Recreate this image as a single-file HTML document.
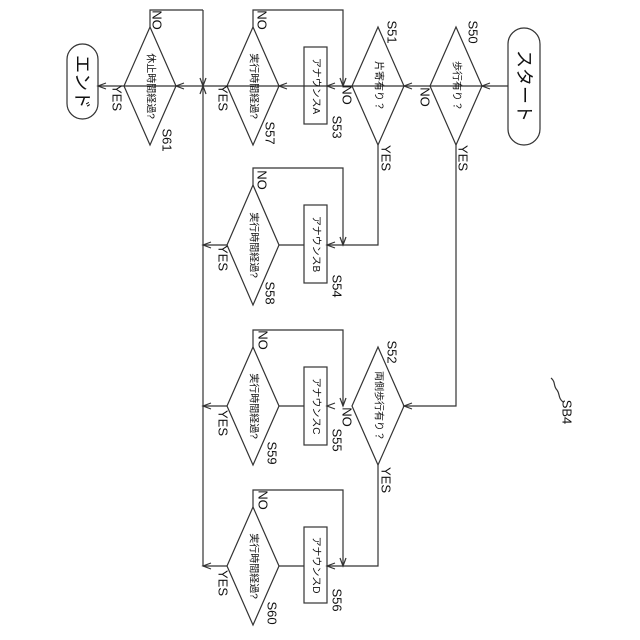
<!DOCTYPE html>
<html><head><meta charset="utf-8"><style>
html,body{margin:0;padding:0;background:#fff;}
svg{display:block;}
text{font-family:"Liberation Sans","Noto Sans CJK JP",sans-serif;fill:#111;}
.l{font-size:13px;}
.d{font-size:10px;}
</style></head><body>
<svg width="640" height="640" viewBox="0 0 640 640" xmlns="http://www.w3.org/2000/svg">
<g fill="none" stroke="#333" stroke-width="1.2">
<rect x="508" y="28" width="32" height="117" rx="16"/>
<rect x="67" y="44" width="31" height="75" rx="15.5"/>
<polygon points="456,27 482,86 456,145 430,86"/>
<polygon points="378,27 404,86 378,145 352,86"/>
<polygon points="253,27 279,86 253,145 227,86"/>
<polygon points="150,27 176,86 150,145 124,86"/>
<rect x="304" y="47" width="23" height="77"/>
<rect x="304" y="205" width="23" height="78"/>
<rect x="304" y="367" width="23" height="78"/>
<rect x="304" y="527" width="23" height="76"/>
<polygon points="253,185 279,245 253,305 227,245"/>
<polygon points="378,347 404,406 378,465 352,406"/>
<polygon points="253,347 279,406 253,465 227,406"/>
<polygon points="253,507 279,566 253,625 227,566"/>
<line x1="508" y1="86" x2="98" y2="86"/>
<line x1="203" y1="10" x2="203" y2="566"/>
<polyline points="253,27 253,10 343,10 343,86"/>
<polyline points="150,27 150,10 203,10"/>
<polyline points="253,185 253,168 343,168 343,245"/>
<polyline points="253,347 253,330 343,330 343,406"/>
<polyline points="253,507 253,490 343,490 343,566"/>
<polyline points="378,145 378,245 327,245"/>
<polyline points="456,145 456,406 404,406"/>
<polyline points="378,465 378,566 327,566"/>
<line x1="304" y1="245" x2="279" y2="245"/>
<line x1="304" y1="406" x2="279" y2="406"/>
<line x1="304" y1="566" x2="279" y2="566"/>
<line x1="227" y1="245" x2="203" y2="245"/>
<line x1="227" y1="406" x2="203" y2="406"/>
<line x1="227" y1="566" x2="203" y2="566"/>
<polyline points="490,83 482,86 490,89"/>
<polyline points="412,83 404,86 412,89"/>
<polyline points="335,83 327,86 335,89"/>
<polyline points="287,83 279,86 287,89"/>
<polyline points="184,83 176,86 184,89"/>
<polyline points="106,83 98,86 106,89"/>
<polyline points="335,242 327,245 335,248"/>
<polyline points="211,242 203,245 211,248"/>
<polyline points="412,403 404,406 412,409"/>
<polyline points="335,403 327,406 335,409"/>
<polyline points="211,403 203,406 211,409"/>
<polyline points="335,563 327,566 335,569"/>
<polyline points="211,563 203,566 211,569"/>
<polyline points="340,78 343,86 346,78"/>
<polyline points="200,78 203,86 206,78"/>
<polyline points="340,237 343,245 346,237"/>
<polyline points="340,398 343,406 346,398"/>
<polyline points="340,558 343,566 346,558"/>
<polyline points="200,94 203,86 206,94"/>
<path d="M551,378 C556,382 553,386 557,390 C560,394 558,398 563,402"/>
</g>
<g class="l">
<text transform="translate(524,86) rotate(90)" text-anchor="middle" dominant-baseline="central" style="font-size:18px">スタート</text>
<text transform="translate(82,82) rotate(90)" text-anchor="middle" dominant-baseline="central" style="font-size:18px">エンド</text>
<text transform="translate(473,32) rotate(90)" text-anchor="middle" dominant-baseline="central">S50</text>
<text transform="translate(392,32) rotate(90)" text-anchor="middle" dominant-baseline="central">S51</text>
<text transform="translate(337,127) rotate(90)" text-anchor="middle" dominant-baseline="central">S53</text>
<text transform="translate(270,133) rotate(90)" text-anchor="middle" dominant-baseline="central">S57</text>
<text transform="translate(167,140) rotate(90)" text-anchor="middle" dominant-baseline="central">S61</text>
<text transform="translate(337,286) rotate(90)" text-anchor="middle" dominant-baseline="central">S54</text>
<text transform="translate(270,293) rotate(90)" text-anchor="middle" dominant-baseline="central">S58</text>
<text transform="translate(392,352) rotate(90)" text-anchor="middle" dominant-baseline="central">S52</text>
<text transform="translate(337,440) rotate(90)" text-anchor="middle" dominant-baseline="central">S55</text>
<text transform="translate(272,453) rotate(90)" text-anchor="middle" dominant-baseline="central">S59</text>
<text transform="translate(337,600) rotate(90)" text-anchor="middle" dominant-baseline="central">S56</text>
<text transform="translate(272,613) rotate(90)" text-anchor="middle" dominant-baseline="central">S60</text>
<text transform="translate(567,412) rotate(90)" text-anchor="middle" dominant-baseline="central">SB4</text>
<text transform="translate(425,97) rotate(90)" text-anchor="middle" dominant-baseline="central">NO</text>
<text transform="translate(347,95) rotate(90)" text-anchor="middle" dominant-baseline="central">NO</text>
<text transform="translate(262,20) rotate(90)" text-anchor="middle" dominant-baseline="central">NO</text>
<text transform="translate(157,20) rotate(90)" text-anchor="middle" dominant-baseline="central">NO</text>
<text transform="translate(262,180) rotate(90)" text-anchor="middle" dominant-baseline="central">NO</text>
<text transform="translate(347,417) rotate(90)" text-anchor="middle" dominant-baseline="central">NO</text>
<text transform="translate(263,340) rotate(90)" text-anchor="middle" dominant-baseline="central">NO</text>
<text transform="translate(263,500) rotate(90)" text-anchor="middle" dominant-baseline="central">NO</text>
<text transform="translate(463,158) rotate(90)" text-anchor="middle" dominant-baseline="central">YES</text>
<text transform="translate(386,158) rotate(90)" text-anchor="middle" dominant-baseline="central">YES</text>
<text transform="translate(223,98) rotate(90)" text-anchor="middle" dominant-baseline="central">YES</text>
<text transform="translate(117,98) rotate(90)" text-anchor="middle" dominant-baseline="central">YES</text>
<text transform="translate(223,258) rotate(90)" text-anchor="middle" dominant-baseline="central">YES</text>
<text transform="translate(386,480) rotate(90)" text-anchor="middle" dominant-baseline="central">YES</text>
<text transform="translate(223,423) rotate(90)" text-anchor="middle" dominant-baseline="central">YES</text>
<text transform="translate(223,583) rotate(90)" text-anchor="middle" dominant-baseline="central">YES</text>
</g>
<g class="d">
<text transform="translate(456,86) rotate(90)" text-anchor="middle" dominant-baseline="central">歩行有り？</text>
<text transform="translate(378,86) rotate(90)" text-anchor="middle" dominant-baseline="central">片寄有り？</text>
<text transform="translate(253,86) rotate(90)" text-anchor="middle" dominant-baseline="central">実行時間経過?</text>
<text transform="translate(150,86) rotate(90)" text-anchor="middle" dominant-baseline="central">休止時間経過?</text>
<text transform="translate(253,245) rotate(90)" text-anchor="middle" dominant-baseline="central">実行時間経過?</text>
<text transform="translate(378,406) rotate(90)" text-anchor="middle" dominant-baseline="central">両側歩行有り？</text>
<text transform="translate(253,406) rotate(90)" text-anchor="middle" dominant-baseline="central">実行時間経過?</text>
<text transform="translate(253,566) rotate(90)" text-anchor="middle" dominant-baseline="central">実行時間経過?</text>
<text transform="translate(315.5,86) rotate(90)" text-anchor="middle" dominant-baseline="central">アナウンスA</text>
<text transform="translate(315.5,244) rotate(90)" text-anchor="middle" dominant-baseline="central">アナウンスB</text>
<text transform="translate(315.5,406) rotate(90)" text-anchor="middle" dominant-baseline="central">アナウンスC</text>
<text transform="translate(315.5,565) rotate(90)" text-anchor="middle" dominant-baseline="central">アナウンスD</text>
</g>
</svg>
</body></html>
